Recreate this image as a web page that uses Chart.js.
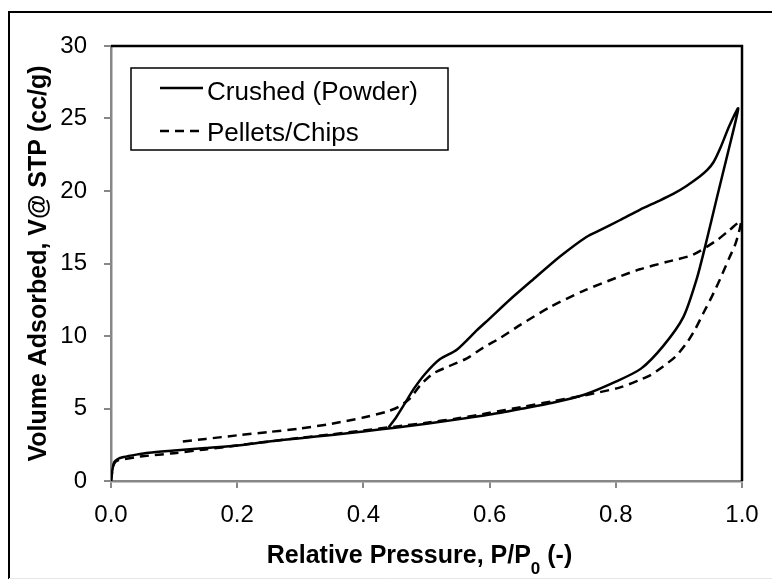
<!DOCTYPE html>
<html>
<head>
<meta charset="utf-8">
<script src="https://cdn.jsdelivr.net/npm/chart.js@4"></script>
<style>
  html, body { margin: 0; padding: 0; background: #fff; }
  canvas { display: block; }
</style>
</head>
<body>
<canvas id="isothermChart" width="772" height="580"></canvas>
<script>
// N2 isotherms, relative pressure vs volume adsorbed
const crushedAdsP = [0.000, 0.002, 0.005, 0.010, 0.020, 0.040, 0.060, 0.100, 0.150, 0.200, 0.250, 0.300, 0.350, 0.400, 0.450, 0.500, 0.550, 0.600, 0.650, 0.700, 0.750, 0.800, 0.840, 0.875, 0.907, 0.928, 0.944, 0.960, 0.978, 0.994];
const crushedAdsV = [0.00, 0.70, 1.30, 1.50, 1.65, 1.82, 1.95, 2.10, 2.28, 2.45, 2.72, 2.95, 3.18, 3.42, 3.68, 3.95, 4.25, 4.58, 4.98, 5.40, 5.95, 6.85, 7.75, 9.30, 11.30, 13.90, 16.60, 19.50, 22.70, 25.70];
const crushedDesP = [0.980, 0.966, 0.955, 0.945, 0.933, 0.912, 0.891, 0.865, 0.838, 0.807, 0.775, 0.754, 0.712, 0.669, 0.632, 0.600, 0.580, 0.548, 0.521, 0.498, 0.479, 0.465, 0.452, 0.440];
const crushedDesV = [24.50, 23.00, 22.00, 21.45, 21.00, 20.35, 19.80, 19.25, 18.70, 18.00, 17.30, 16.85, 15.50, 13.90, 12.50, 11.20, 10.40, 9.05, 8.40, 7.40, 6.30, 5.30, 4.40, 3.70];

const pelletsAdsP = [0.000, 0.002, 0.005, 0.010, 0.020, 0.040, 0.060, 0.100, 0.150, 0.200, 0.250, 0.300, 0.350, 0.400, 0.450, 0.500, 0.550, 0.600, 0.650, 0.700, 0.750, 0.807, 0.838, 0.855, 0.875, 0.895, 0.912, 0.925, 0.939, 0.952, 0.965, 0.980, 0.990, 0.998];
const pelletsAdsV = [0.00, 0.65, 1.20, 1.40, 1.50, 1.65, 1.75, 1.92, 2.18, 2.45, 2.72, 2.98, 3.22, 3.48, 3.75, 4.02, 4.32, 4.70, 5.10, 5.50, 5.90, 6.46, 6.97, 7.30, 7.90, 8.60, 9.50, 10.40, 11.60, 12.70, 13.90, 15.40, 16.40, 17.90];
const pelletsDesP = [0.980, 0.960, 0.922, 0.880, 0.838, 0.800, 0.748, 0.696, 0.650, 0.616, 0.590, 0.564, 0.535, 0.510, 0.490, 0.474, 0.455, 0.437, 0.400, 0.350, 0.300, 0.250, 0.200, 0.150, 0.112];
const pelletsDesV = [17.30, 16.60, 15.60, 15.10, 14.60, 14.00, 13.10, 12.00, 10.80, 9.84, 9.20, 8.46, 7.90, 7.40, 6.60, 5.70, 5.10, 4.78, 4.38, 3.95, 3.62, 3.38, 3.15, 2.90, 2.71];

const xTicks = [0, 0.2, 0.4, 0.6, 0.8, 1.0];
const yTicks = [0, 5, 10, 15, 20, 25, 30];

const seriesLabels = ['Crushed (Powder)', 'Pellets/Chips'];
const xTitleParts = ['Relative Pressure, P/P', '0', ' (-)'];

function toPoints(ps, vs) {
  return ps.map((p, i) => ({ x: p, y: vs[i] }));
}

const FONT = "'Liberation Sans', Arial, Helvetica, sans-serif";
const AXIS_GRAY = '#878787';

// frame round the whole figure and the black top/right edges of the plot
const framePlugin = {
  id: 'frame',
  beforeDraw(chart) {
    const ctx = chart.ctx;
    ctx.save();
    ctx.fillStyle = '#fff';
    ctx.fillRect(0, 0, chart.width, chart.height);
    ctx.strokeStyle = '#000';
    ctx.lineWidth = 2;
    ctx.beginPath();
    ctx.moveTo(9, 579);
    ctx.lineTo(9, 12);
    ctx.lineTo(chart.width, 12);
    ctx.stroke();
    ctx.strokeStyle = '#e6e6e6';
    ctx.lineWidth = 1;
    ctx.beginPath();
    ctx.moveTo(9, 578.5);
    ctx.lineTo(chart.width, 578.5);
    ctx.stroke();
    ctx.restore();
  },
  beforeDatasetsDraw(chart) {
    const { ctx, chartArea: a } = chart;
    ctx.save();
    ctx.strokeStyle = '#000';
    ctx.lineWidth = 2.5;
    ctx.beginPath();
    ctx.moveTo(a.left, a.top);
    ctx.lineTo(a.right, a.top);
    ctx.lineTo(a.right, a.bottom);
    ctx.stroke();
    ctx.restore();
  },
  // x title with a lowered subscript zero
  afterDraw(chart) {
    const { ctx, chartArea: a } = chart;
    const big = 'bold 25px ' + FONT;
    const small = 'bold 17px ' + FONT;
    ctx.save();
    ctx.fillStyle = '#000';
    ctx.textBaseline = 'alphabetic';
    ctx.textAlign = 'left';
    ctx.font = big;
    const w0 = ctx.measureText(xTitleParts[0]).width;
    const w2 = ctx.measureText(xTitleParts[2]).width;
    ctx.font = small;
    const w1 = ctx.measureText(xTitleParts[1]).width;
    let x = (a.left + a.right) / 2 - 7 - (w0 + w1 + w2) / 2;
    const y = a.bottom + 82;
    ctx.font = big;
    ctx.fillText(xTitleParts[0], x, y);
    x += w0;
    ctx.font = small;
    ctx.fillText(xTitleParts[1], x, y + 11);
    x += w1;
    ctx.font = big;
    ctx.fillText(xTitleParts[2], x, y);
    ctx.restore();
  }
};

// boxed legend sitting inside the plot area
const boxLegendPlugin = {
  id: 'boxLegend',
  afterDatasetsDraw(chart) {
    const { ctx, chartArea: a } = chart;
    const x0 = a.left + 20, y0 = a.top + 22, w = 317, h = 82;
    ctx.save();
    ctx.fillStyle = '#fff';
    ctx.fillRect(x0, y0, w, h);
    ctx.strokeStyle = '#000';
    ctx.lineWidth = 1.5;
    ctx.strokeRect(x0, y0, w, h);
    ctx.font = '26px ' + FONT;
    ctx.fillStyle = '#000';
    ctx.textBaseline = 'alphabetic';
    chart.data.datasets.forEach((ds, i) => {
      const ly = y0 + 20 + i * 43;
      ctx.lineWidth = ds.borderWidth;
      ctx.strokeStyle = ds.borderColor;
      ctx.setLineDash(ds.borderDash || []);
      ctx.beginPath();
      ctx.moveTo(x0 + 29, ly);
      ctx.lineTo(x0 + 72, ly);
      ctx.stroke();
      ctx.setLineDash([]);
      ctx.fillText(ds.label, x0 + 76, ly + 12 - i * 2);
    });
    ctx.restore();
  }
};

new Chart(document.getElementById('isothermChart'), {
  type: 'scatter',
  data: {
    datasets: [
      {
        label: seriesLabels[0],
        data: toPoints(crushedAdsP.concat(crushedDesP), crushedAdsV.concat(crushedDesV)),
        showLine: true,
        borderColor: '#000',
        borderWidth: 2.5,
        pointRadius: 0,
        tension: 0.25
      },
      {
        label: seriesLabels[1],
        data: toPoints(pelletsAdsP.concat(pelletsDesP), pelletsAdsV.concat(pelletsDesV)),
        showLine: true,
        borderColor: '#000',
        borderWidth: 2.5,
        borderDash: [9, 6],
        pointRadius: 0,
        tension: 0.25
      }
    ]
  },
  options: {
    responsive: false,
    animation: false,
    devicePixelRatio: 1,
    layout: {
      padding: { top: 46, right: 30, left: 0, bottom: 0 }
    },
    plugins: {
      legend: { display: false },
      tooltip: { enabled: false }
    },
    scales: {
      x: {
        type: 'linear',
        min: 0,
        max: 1,
        afterBuildTicks: (scale) => { scale.ticks = xTicks.map(v => ({ value: v })); },
        afterFit: (scale) => { scale.height = 99; },
        ticks: {
          color: '#000',
          padding: 13,
          font: { family: FONT, size: 24 },
          callback: (v) => v.toFixed(1)
        },
        grid: {
          drawOnChartArea: false,
          drawTicks: true,
          tickLength: 7,
          color: AXIS_GRAY,
          lineWidth: 2
        },
        border: { color: AXIS_GRAY, width: 2.5 }
      },
      y: {
        type: 'linear',
        min: 0,
        max: 30,
        afterBuildTicks: (scale) => { scale.ticks = yTicks.map(v => ({ value: v })); },
        afterFit: (scale) => { scale.width = 111; },
        ticks: {
          color: '#000',
          padding: 17,
          font: { family: FONT, size: 24 }
        },
        grid: {
          drawOnChartArea: false,
          drawTicks: true,
          tickLength: 7,
          color: AXIS_GRAY,
          lineWidth: 2
        },
        border: { color: AXIS_GRAY, width: 2.5 },
        title: {
          display: true,
          text: 'Volume Adsorbed, V@ STP (cc/g)',
          color: '#000',
          padding: { top: 24, bottom: 0 },
          font: { family: FONT, size: 25, weight: 'bold' }
        }
      }
    }
  },
  plugins: [framePlugin, boxLegendPlugin]
});
</script>
</body>
</html>
